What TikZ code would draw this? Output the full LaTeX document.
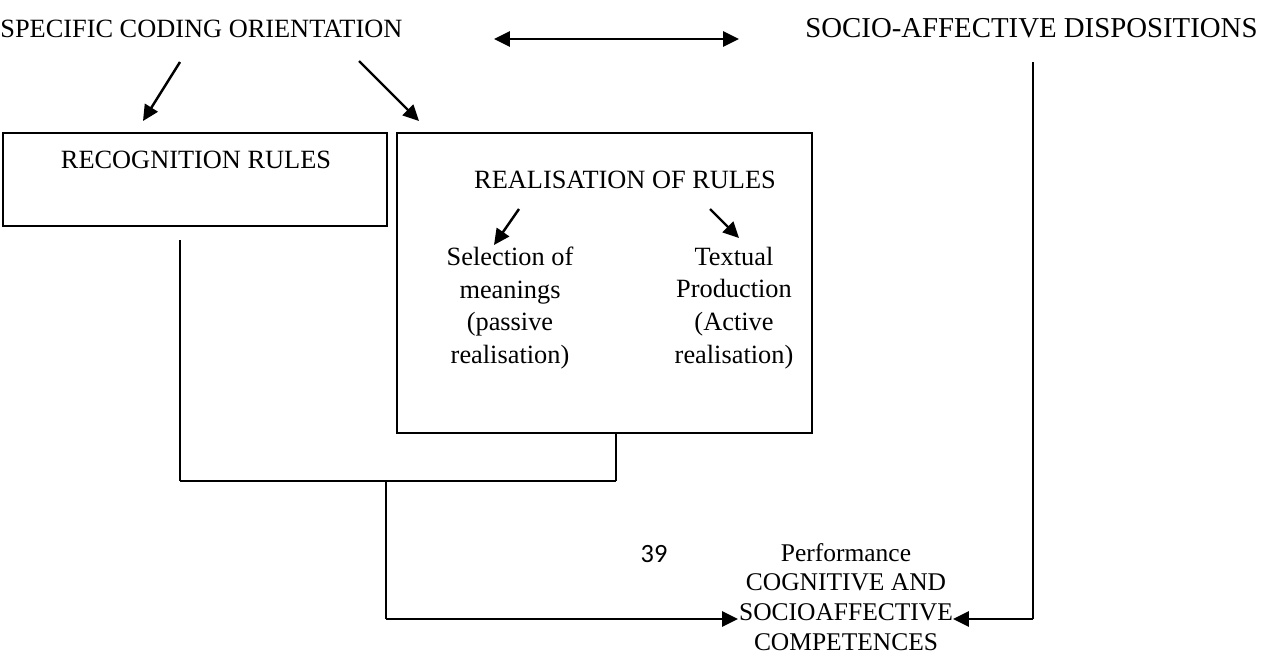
\documentclass[tikz,border=0pt]{standalone}
\usepackage{fontspec}
\setmainfont{Liberation Serif}
\newfontfamily\numfont{Carlito}
\usetikzlibrary{arrows.meta}
\begin{document}
\begin{tikzpicture}[x=0.02cm,y=-0.02cm,
  lbl/.style={inner sep=0pt, font=\fontsize{15}{18.7}\selectfont},
  box/.style={draw, line width=1.55pt, inner sep=0pt},
  tip/.tip={Triangle[length=9pt,width=8.5pt]},
  arr/.style={line width=1.4pt, -tip},
  dbl/.style={line width=1.4pt, tip-tip},
  thinline/.style={line width=0.8pt},
  midline/.style={line width=1.2pt},
  thickline/.style={line width=1.6pt}]
\useasboundingbox (0,0) rectangle (1271,654);
% texts
\node[lbl, anchor=base west] (sco) at (0,37) {SPECIFIC CODING ORIENTATION};
\node[lbl, anchor=base west, font=\fontsize{16.4}{19}\selectfont] (sad) at (805,37) {SOCIO-AFFECTIVE DISPOSITIONS};
% boxes
\node[box, minimum width=7.68cm, minimum height=1.86cm] (recbox) at (195,179.5) {};
\node[box, minimum width=8.3cm, minimum height=6cm] (realbox) at (604.5,283) {};
\node[lbl, anchor=base] (rec) at (196,168) {RECOGNITION RULES};
\node[lbl, anchor=base] (real) at (625,188) {REALISATION OF RULES};
\node[lbl, align=center] (sel) at (510,308) {Selection of\\meanings\\(passive\\realisation)};
\node[lbl, align=center] (txt) at (734,308) {Textual\\Production\\(Active\\realisation)};
\node[lbl, align=center, font=\fontsize{14.5}{17}\selectfont] (perf) at (846,597) {Performance\\COGNITIVE AND\\SOCIOAFFECTIVE\\COMPETENCES};
\node[inner sep=0pt, anchor=base, font=\numfont\fontsize{15}{17}\selectfont] (pg) at (654,562) {39};
% arrow ends
\coordinate (da1) at (494,39);
\coordinate (da2) at (739,39);
\coordinate (a1s) at (180,62);
\coordinate (a1e) at (143,121);
\coordinate (a2s) at (359,61);
\coordinate (a2e) at (419,121);
\coordinate (b1s) at (519,209);
\coordinate (b1e) at (494,245);
\coordinate (b2s) at (710,209);
\coordinate (b2e) at (739,238);
\coordinate (rs) at (180,240);
\coordinate (re) at (616,433);
\coordinate (j) at (386,481);
\coordinate (pl) at (738,619);
\coordinate (pr) at (953,619);
\coordinate (sd) at (1033,62);
% arrows
\draw[dbl] (da1) -- (da2);
\draw[arr] (a1s) -- (a1e);
\draw[arr] (a2s) -- (a2e);
\draw[arr] (b1s) -- (b1e);
\draw[arr] (b2s) -- (b2e);
% connectors
\draw[thinline] (rs) -- (rs |- j);
\draw[midline] (rs |- j) -- (j -| re);
\draw[thinline] (re) -- (re |- j);
\draw[thinline] (j) -- (j |- pl);
\draw[arr] (j |- pl) -- (pl);
\draw[thickline] (sd) -- (sd |- pr);
\draw[arr] (sd |- pr) -- (pr);
\end{tikzpicture}
\end{document}
